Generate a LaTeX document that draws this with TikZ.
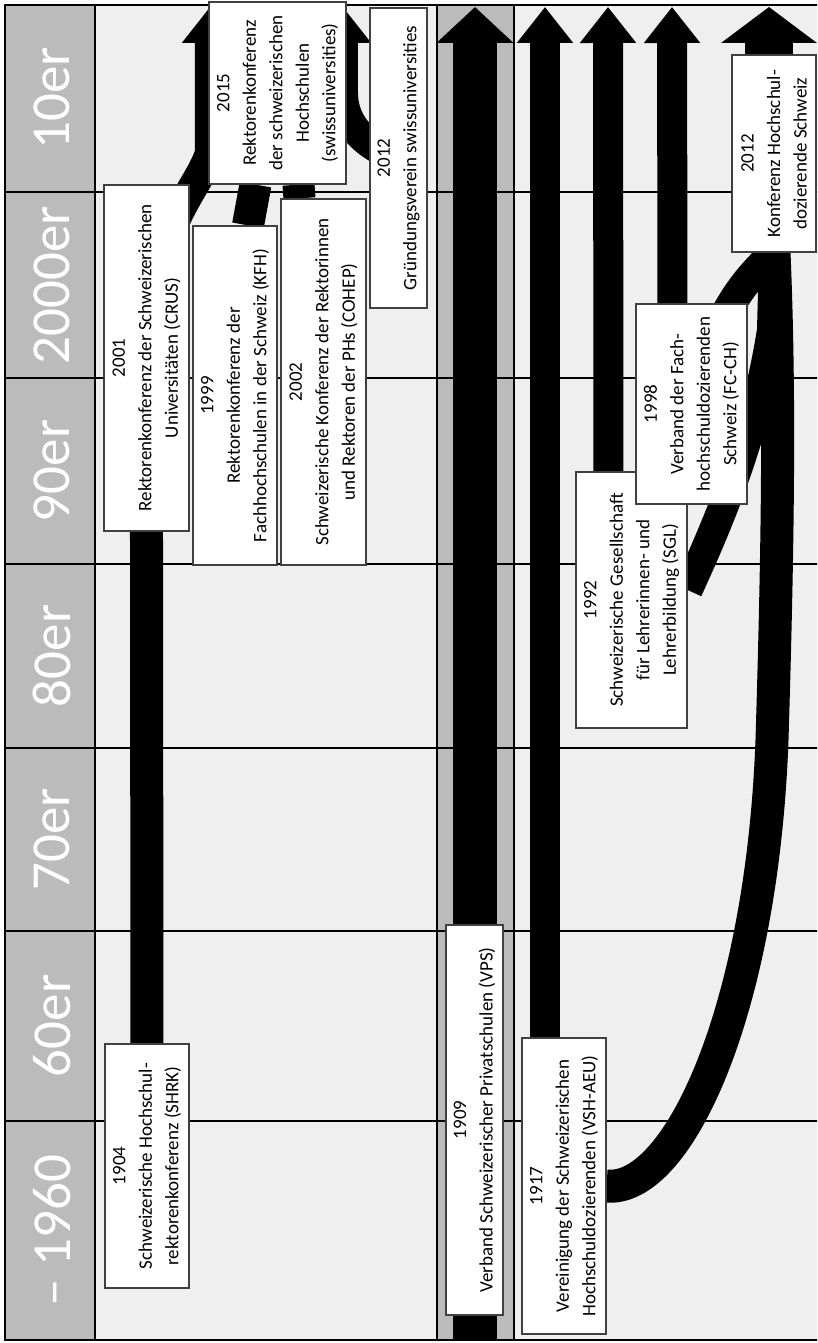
\documentclass[tikz,border=0pt]{standalone}
\usepackage{fontspec}
\setmainfont{Carlito}
\usetikzlibrary{arrows.meta, calc, backgrounds}

\definecolor{headgrey}{RGB}{187,187,187}
\definecolor{panelgrey}{RGB}{239,239,239}
\definecolor{boxline}{RGB}{64,64,64}

\newcommand{\boxfont}{\fontsize{19}{26.5}\selectfont}
\newcommand{\decadefont}{\fontsize{55}{60}\selectfont}

\tikzset{
  orgbox/.style={draw=boxline, line width=1.2pt, fill=white, inner sep=0pt, align=center, font=\boxfont},
  decade/.style={text=white, font=\decadefont, inner sep=0pt},
  flow/.style={line width=30pt, -{Triangle[width=54pt, length=36pt]}},
  band/.style={line width=32pt},
}

\begin{document}
\begin{tikzpicture}[x=1pt, y=1pt, rotate=90, transform shape]
\useasboundingbox (0,0) rectangle (1343,817);

% grid of decades
\begin{scope}[on background layer]
  \clip (0,0) rectangle (1343,817);
  \fill[headgrey] (3,722) rectangle (1338,812);
  \fill[panelgrey] (3,380) rectangle (1338,722);
  \fill[headgrey] (3,303) rectangle (1338,380);
  \fill[panelgrey] (3,-10) rectangle (1338,303);
  \foreach \u in {222,412,595,779,965,1151}
    \draw[line width=1.6pt] (\u,-10) -- (\u,812);
  \draw[line width=1.8pt] (3,722) rectangle (1338,812)
    (3,380) rectangle (1338,722)
    (3,303) rectangle (1338,380)
    (3,-10) rectangle (1338,303);
\end{scope}

% decade labels
\node[decade] (d1960) at (112.5,765) {– 1960};
\node[decade] (d60) at (317,765) {60er};
\node[decade] (d70) at (503.5,765) {70er};
\node[decade] (d80) at (687,765) {80er};
\node[decade] (d90) at (872,765) {90er};
\node[decade] (d2000) at (1058,765) {2000er};
\node[decade] (d10) at (1244.5,765) {10er};

% rectors' conferences
\node[orgbox, minimum width=244, minimum height=84] (SHRK) at (177,670) {1904\\Schweizerische Hochschul-\\rektorenkonferenz (SHRK)};
\node[orgbox, minimum width=346, minimum height=85] (CRUS) at (985,670.5) {2001\\Rektorenkonferenz der Schweizerischen\\Universitäten (CRUS)};
\node[orgbox, minimum width=339, minimum height=84] (KFH) at (947.5,582) {1999\\Rektorenkonferenz der\\Fachhochschulen in der Schweiz (KFH)};
\node[orgbox, minimum width=366, minimum height=85] (COHEP) at (961,493.5) {2002\\Schweizerische Konferenz der Rektorinnen\\und Rektoren der PHs (COHEP)};
\node[orgbox, minimum width=182, minimum height=137] (SU) at (1250,539.5) {2015\\Rektorenkonferenz\\der schweizerischen\\Hochschulen\\(swissuniversities)};
\node[orgbox, minimum width=300, minimum height=57] (GV) at (1185,418.5) {2012\\Gründungsverein swissuniversities};

% private schools
\node[orgbox, minimum width=390, minimum height=57] (VPS) at (223,342.5) {1909\\Verband Schweizerischer Privatschulen (VPS)};

% lecturers
\node[orgbox, minimum width=296, minimum height=84] (VSH) at (157,253) {1917\\Vereinigung der Schweizerischen\\Hochschuldozierenden (VSH-AEU)};
\node[orgbox, minimum width=256, minimum height=111] (SGL) at (743,185.5) {1992\\Schweizerische Gesellschaft\\für Lehrerinnen- und\\Lehrerbildung (SGL)};
\node[orgbox, minimum width=200, minimum height=111] (FCCH) at (939,125.5) {1998\\Verband der Fach-\\hochschuldozierenden\\Schweiz (FC-CH)};
\node[orgbox, minimum width=197, minimum height=84] (KHD) at (1189.5,43) {2012\\Konferenz Hochschul-\\dozierende Schweiz};

% arrow ends at the top
\coordinate (CRUStip) at (1336,607);
\coordinate (GVtip) at (1336,474);
\coordinate (VPSbase) at (3,342);
\coordinate (VPStip) at (1336,342);
\coordinate (VSHtip) at (1336,272);
\coordinate (SGLtip) at (1336,209);
\coordinate (FCCHtip) at (1336,145);
\coordinate (KHDtip) at (1336,48);

\begin{scope}[on background layer]
  \clip (0,0) rectangle (1343,817);
  % Hochschulen
  \draw[band, line width=33pt] (SHRK.east) -- (CRUS.west);
  \draw[flow] (CRUS.center) .. controls (1120,665) and (1150,620) .. (1190,607) -- (CRUStip);
  \draw[band] ($(KFH.east)+(0,-13)$) -- ($(SU.west)+(0,22)$);
  \draw[band] ($(COHEP.east)+(0,24)$) -- ($(SU.west)+(0,-21)$);
  \draw[flow] (GV.center) .. controls (1200,460) and (1225,474) .. (1250,474) -- (GVtip);
  % Privatschulen
  \draw[line width=44pt, -{Triangle[width=75pt, length=36pt]}] (VPSbase) -- (VPStip);
  % Dozierende
  \draw[flow] ($(VSH.east)+(0,19)$) -- (VSHtip);
  \draw[flow] ($(SGL.east)+(0,23)$) -- (SGLtip);
  \draw[flow] ($(FCCH.east)+(0,19)$) -- (FCCHtip);
  \draw[band, line width=33pt] (VSH.south) .. controls (150,140) and (330,55) .. (603,45)
    .. controls (800,39) and (950,37) .. (KHD.west);
  \draw[band, line width=30pt] ($(SGL.south)+(10,0)$) .. controls (813,102) and (903,62) .. (1013,45) -- (KHD.west);
  \draw[band, line width=30pt] (FCCH.center) .. controls (1030,100) and (1060,75) .. (KHD.west);
  \draw[line width=48pt, -{Triangle[width=94pt, length=36pt]}] ($(KHD.east)+(0,5)$) -- (KHDtip);
\end{scope}
\end{tikzpicture}
\end{document}
